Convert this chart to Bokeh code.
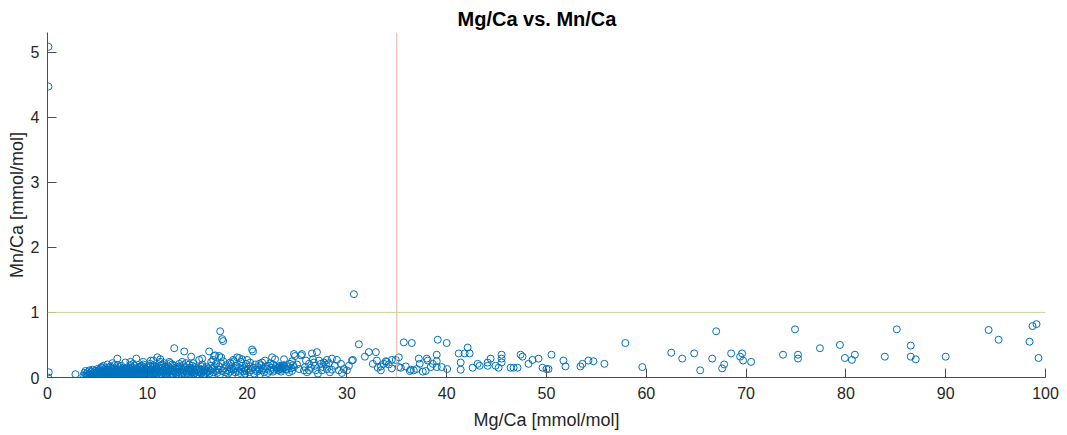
from bokeh.plotting import figure
from bokeh.models import Span, FixedTicker, Range1d
from bokeh.embed import file_html
from bokeh.resources import INLINE

# ---- data ----
edge_x = [0.1, 0.1, 0.13, 0.07, 2.8]
edge_y = [5.08, 4.47, 0.08, 0.0, 0.05]

band_a_x = [3.6,3.7,3.8,3.8,3.9,4.0,4.0,4.1,4.2,4.2,4.3,4.4,4.4,4.5,4.5,4.6,4.6,4.7,4.7,4.8,4.8,4.9,4.9,5.0,5.0,
            5.0,5.1,5.1,5.2,5.2,5.3,5.3,5.3,5.4,5.4,5.5,5.5,5.5,5.6,5.6,5.7,5.7,5.7,5.8,5.8,5.8,5.9,5.9,6.0,6.0,5.2,5.4,5.6,5.8,5.95,
            6.05,6.1,6.1,6.2,6.2,6.25,6.3,6.3,6.4,6.4,6.45,6.5,6.5,6.6,6.6,6.65,6.7,6.7,6.75,6.8,6.8,6.85,6.9,6.9,6.95,6.0,6.5,6.3,6.7,6.15]
band_a_y = [0.03,0.07,0.01,0.10,0.05,0.02,0.08,0.04,0.11,0.06,0.01,0.03,0.09,0.05,0.12,0.02,0.07,0.04,0.10,0.01,0.06,0.03,0.08,0.05,0.13,
            0.02,0.06,0.11,0.04,0.09,0.01,0.07,0.13,0.03,0.10,0.05,0.08,0.15,0.02,0.12,0.04,0.07,0.10,0.01,0.06,0.14,0.03,0.09,0.05,0.11,0.00,0.16,0.18,0.04,0.07,
            0.03,0.08,0.12,0.05,0.01,0.10,0.07,0.15,0.04,0.09,0.13,0.02,0.06,0.11,0.03,0.08,0.05,0.14,0.01,0.07,0.10,0.04,0.12,0.06,0.09,0.20,0.22,0.17,0.19,0.00]

band_b_x = [7.0,7.0,7.05,7.1,7.1,7.15,7.2,7.2,7.3,7.3,7.35,7.4,7.4,7.5,7.5,7.55,7.6,7.6,7.65,7.7,7.7,7.75,7.8,7.8,7.85,7.9,7.9,7.95,7.0,7.8,
            8.0,8.05,8.1,8.1,8.2,8.2,8.25,8.3,8.3,8.35,8.4,8.4,8.5,8.5,8.55,8.6,8.6,8.65,8.7,8.7,8.75,8.8,8.8,8.85,8.9,8.9,8.95,8.3,8.6,8.2,
            9.0,9.05,9.1,9.1,9.2,9.2,9.25,9.3,9.3,9.4,9.4,9.45,9.5,9.5,9.55,9.6,9.6,9.65,9.7,9.7,9.75,9.8,9.8,9.85,9.9,9.95,9.6,9.3]
band_b_y = [0.29,0.05,0.10,0.02,0.13,0.07,0.04,0.16,0.09,0.01,0.12,0.06,0.18,0.03,0.11,0.08,0.05,0.14,0.02,0.10,0.07,0.04,0.12,0.23,0.06,0.09,0.15,0.03,0.19,0.01,
            0.05,0.11,0.02,0.08,0.14,0.04,0.10,0.06,0.24,0.13,0.03,0.09,0.07,0.16,0.01,0.12,0.05,0.10,0.08,0.18,0.03,0.06,0.14,0.11,0.04,0.29,0.09,0.19,0.21,0.00,
            0.07,0.12,0.03,0.09,0.15,0.05,0.11,0.02,0.08,0.13,0.06,0.18,0.04,0.10,0.14,0.07,0.24,0.03,0.11,0.16,0.06,0.09,0.13,0.02,0.08,0.12,0.20,0.17]

band_c_x = [10.0,10.05,10.1,10.1,10.2,10.2,10.25,10.3,10.3,10.35,10.4,10.4,10.5,10.5,10.55,10.6,10.6,10.65,10.7,10.7,10.75,10.8,10.8,10.9,10.9,10.3,10.6,11.0,
            11.0,11.05,11.1,11.2,11.2,11.3,11.3,11.35,11.4,11.4,11.5,11.5,11.6,11.6,11.65,11.7,11.7,11.8,11.8,11.85,11.9,11.9,11.3,11.5,11.95,
            12.0,12.1,12.1,12.2,12.3,12.3,12.4,12.5,12.5,12.6,12.6,12.7,12.7,12.8,12.8,12.9,12.9,12.3,12.6,12.2]
band_c_y = [0.04,0.10,0.15,0.07,0.02,0.12,0.08,0.05,0.18,0.26,0.11,0.03,0.09,0.14,0.06,0.26,0.12,0.04,0.10,0.17,0.07,0.13,0.02,0.09,0.15,0.21,0.19,0.31,
            0.06,0.12,0.16,0.03,0.09,0.28,0.13,0.05,0.10,0.19,0.07,0.15,0.02,0.11,0.08,0.14,0.22,0.04,0.17,0.10,0.06,0.13,0.24,0.20,0.09,
            0.05,0.11,0.17,0.08,0.03,0.14,0.10,0.06,0.20,0.12,0.04,0.45,0.09,0.15,0.07,0.13,0.02,0.22,0.18,0.24]

band_d_x = [13.0,13.1,13.1,13.2,13.3,13.3,13.4,13.5,13.5,13.6,13.6,13.7,13.7,13.8,13.8,13.9,13.9,13.2,13.5,13.0,
            14.0,14.1,14.1,14.2,14.3,14.3,14.4,14.4,14.5,14.5,14.6,14.6,14.7,14.8,14.8,14.9,14.9,14.2,14.6,14.35,
            15.0,15.1,15.2,15.2,15.3,15.4,15.4,15.5,15.5,15.6,15.7,15.7,15.8,15.9,15.9,15.2,15.5,15.6,
            16.0,16.1,16.2,16.2,16.3,16.4,16.5,16.5,16.6,16.7,16.7,16.8,16.9,16.9,16.4,16.6]
band_d_y = [0.08,0.13,0.04,0.17,0.10,0.06,0.14,0.02,0.11,0.19,0.07,0.40,0.12,0.05,0.16,0.09,0.22,0.21,0.24,0.15,
            0.06,0.12,0.03,0.09,0.15,0.05,0.32,0.11,0.08,0.18,0.04,0.13,0.10,0.07,0.16,0.02,0.12,0.20,0.22,0.14,
            0.05,0.10,0.03,0.14,0.08,0.12,0.06,0.29,0.17,0.09,0.04,0.13,0.11,0.07,0.16,0.27,0.20,0.02,
            0.09,0.14,0.40,0.06,0.11,0.18,0.04,0.13,0.08,0.33,0.16,0.34,0.10,0.21,0.24,0.27]

band_e_x = [17.0,17.1,17.2,17.2,17.3,17.3,17.4,17.5,17.5,17.6,17.7,17.8,17.9,17.4,17.6,
            18.0,18.1,18.2,18.3,18.4,18.4,18.5,18.6,18.6,18.7,18.8,18.9,18.3,18.8,
            19.0,19.1,19.2,19.2,19.3,19.4,19.5,19.5,19.6,19.7,19.8,19.9,19.4,19.9,
            20.0,20.1,20.2,20.3,20.4,20.5,20.6,20.6,20.7,20.8,20.9,20.3,
            21.0,21.1,21.2,21.3,21.4,21.5,21.5,21.6,21.7,21.8,21.9,21.2]
band_e_y = [0.07,0.12,0.33,0.17,0.71,0.05,0.31,0.59,0.10,0.56,0.14,0.08,0.19,0.22,0.25,
            0.11,0.06,0.16,0.09,0.13,0.21,0.04,0.27,0.12,0.25,0.08,0.18,0.23,0.14,
            0.31,0.10,0.30,0.15,0.07,0.12,0.28,0.18,0.09,0.14,0.06,0.21,0.24,0.11,
            0.27,0.13,0.08,0.17,0.11,0.43,0.40,0.15,0.06,0.20,0.12,0.23,
            0.09,0.16,0.12,0.05,0.19,0.23,0.11,0.14,0.08,0.26,0.17,0.21]

band_f_x = [22.0,22.1,22.2,22.3,22.4,22.5,22.6,22.7,22.8,22.9,22.3,22.6,
            23.0,23.1,23.2,23.3,23.3,23.4,23.5,23.5,23.6,23.7,23.8,23.9,23.7,23.4,
            24.0,24.1,24.2,24.3,24.4,24.5,24.6,24.7,24.8,24.5,
            24.7,25.2,25.4,25.5,25.7,25.9,26.2,26.2,26.5,26.7,26.9,27.0,27.2,27.4,27.5,27.7,28.0,28.0,28.5,28.5,
            29.0,29.2,29.7,30.0,30.2,30.5,30.6,
            25.0,25.8,26.0,26.4,26.8,27.1,27.6,27.9,28.3,28.8,29.4,29.5,28.2,26.6]
band_f_y = [0.13,0.07,0.18,0.10,0.15,0.31,0.20,0.12,0.28,0.16,0.22,0.09,
            0.14,0.11,0.16,0.13,0.18,0.15,0.12,0.17,0.14,0.28,0.16,0.13,0.19,0.09,
            0.12,0.17,0.08,0.21,0.14,0.10,0.19,0.36,0.33,0.25,
            0.16,0.13,0.34,0.36,0.11,0.26,0.21,0.11,0.37,0.23,0.11,0.39,0.26,0.21,0.11,0.23,0.27,0.13,0.29,0.12,
            0.27,0.11,0.13,0.11,0.18,0.26,0.27,
            0.20,0.16,0.08,0.15,0.18,0.06,0.16,0.20,0.08,0.18,0.21,0.07,0.22,0.28]

sparse_x = [30.7,31.2,31.8,32.2,32.9,32.6,33.0,33.1,33.4,33.4,33.7,33.9,34.0,34.2,34.5,34.5,34.9,35.2,35.2,35.4,
            35.7,35.9,36.3,36.4,36.5,36.7,37.0,37.2,37.3,37.6,37.9,38.0,38.1,38.4,38.6,39.0,39.0,39.0,39.1,39.5,40.0,40.05,
            41.2,41.4,41.4,41.8,42.1,42.3,42.6,43.1,43.3,44.1,44.1,44.4,44.9,45.2,45.5,45.5,45.5,46.4,46.7,47.1,47.4,47.6,
            48.2,48.6,49.2,49.6,50.0,50.2,50.5,51.7,51.9,53.4,53.6,54.2,54.7,55.8,57.9,59.6,62.5,63.6,64.8,65.4,
            66.6,67.0,67.6,67.8,68.5,69.4,69.6,69.7,70.5,73.7,74.9,75.2,75.2,77.4,79.4,79.9,80.6,80.9,83.9,85.1,
            86.5,86.5,87.0,90.0,94.3,95.3,98.4,98.7,99.1,99.3]
sparse_y = [1.28,0.51,0.32,0.39,0.39,0.21,0.26,0.15,0.17,0.11,0.21,0.25,0.24,0.20,0.14,0.27,0.27,0.31,0.16,0.15,
            0.54,0.17,0.10,0.12,0.53,0.11,0.13,0.29,0.21,0.09,0.10,0.29,0.26,0.16,0.21,0.35,0.25,0.16,0.58,0.16,0.53,0.13,
            0.37,0.23,0.12,0.37,0.46,0.37,0.15,0.21,0.18,0.18,0.23,0.29,0.18,0.15,0.35,0.29,0.23,0.15,0.15,0.15,0.35,0.32,
            0.21,0.27,0.29,0.15,0.13,0.13,0.35,0.26,0.17,0.17,0.21,0.26,0.25,0.21,0.53,0.16,0.38,0.29,0.37,0.11,
            0.29,0.71,0.14,0.20,0.37,0.32,0.37,0.26,0.24,0.35,0.74,0.35,0.29,0.45,0.50,0.30,0.27,0.35,0.32,0.74,
            0.49,0.32,0.28,0.32,0.73,0.58,0.55,0.79,0.82,0.30]

mg_threshold = 35
mn_threshold = 1

x_ticks = [0, 10, 20, 30, 40, 50, 60, 70, 80, 90, 100]
y_ticks = [0, 1, 2, 3, 4, 5]

mg_ca = edge_x + band_a_x + band_b_x + band_c_x + band_d_x + band_e_x + band_f_x + sparse_x
mn_ca = edge_y + band_a_y + band_b_y + band_c_y + band_d_y + band_e_y + band_f_y + sparse_y

# ---- figure ----
FONT = "Liberation Sans"
TXT = "#262626"
AX = "#4D4D4D"

p = figure(frame_width=998, frame_height=345, output_backend="svg", toolbar_location=None,
           x_range=Range1d(0, 100), y_range=Range1d(0, 5.3),
           min_border_left=47, min_border_right=15, min_border_top=32, min_border_bottom=48)

p.title.text = "Mg/Ca vs. Mn/Ca"
p.title.align = "left"
p.title.offset = 410
p.title.text_font = FONT
p.title.text_font_size = "20px"
p.title.text_font_style = "bold"
p.title.text_color = "#000000"
p.title.standoff = 6

p.outline_line_color = None
p.xgrid.visible = False
p.ygrid.visible = False
p.background_fill_color = "white"
p.border_fill_color = "white"

for ax in (p.xaxis[0], p.yaxis[0]):
    ax.major_tick_in = 9
    ax.major_tick_out = 0
    ax.minor_tick_line_color = None
    ax.axis_line_color = AX
    ax.major_tick_line_color = AX
    ax.major_label_text_font = FONT
    ax.major_label_text_font_size = "16px"
    ax.major_label_text_color = TXT
    ax.axis_label_text_font = FONT
    ax.axis_label_text_font_size = "18px"
    ax.axis_label_text_font_style = "normal"
    ax.axis_label_text_color = TXT

p.xaxis[0].ticker = FixedTicker(ticks=x_ticks)
p.yaxis[0].ticker = FixedTicker(ticks=y_ticks)
p.xaxis[0].axis_label = "Mg/Ca [mmol/mol]"
p.yaxis[0].axis_label = "Mn/Ca [mmol/mol]"
p.xaxis[0].major_label_standoff = 9
p.yaxis[0].major_label_standoff = 8
p.xaxis[0].axis_label_standoff = 8
p.yaxis[0].axis_label_standoff = 1

p.add_layout(Span(location=mg_threshold, dimension="height", line_color="#EDB29A",
                  line_width=1))
p.add_layout(Span(location=mn_threshold, dimension="width", line_color="#BCD69A",
                  line_width=1))

p.scatter(mg_ca, mn_ca, marker="circle", size=7, fill_color=None,
          line_color="#0072BD", line_width=1, line_alpha=1.0)

open("out.html", "w").write(file_html(p, INLINE))
